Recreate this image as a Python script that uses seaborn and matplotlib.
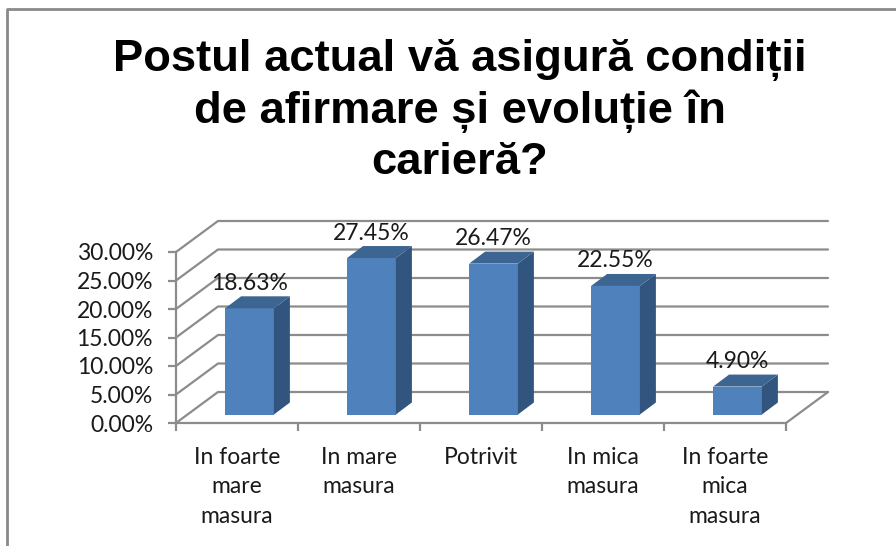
import matplotlib
matplotlib.use("Agg")
import matplotlib.pyplot as plt
import matplotlib.transforms as mtransforms
from matplotlib.lines import Line2D
from matplotlib.patches import Polygon
import pandas as pd
import seaborn as sns

categories = ["In foarte\nmare\nmasura", "In mare\nmasura", "Potrivit", "In mica\nmasura", "In foarte\nmica\nmasura"]
values = [18.63, 27.45, 26.47, 22.55, 4.90]
y_ticks = [0, 5, 10, 15, 20, 25, 30]
title = "Postul actual vă asigură condiții\nde afirmare și evoluție în\ncarieră?"

GRID = "#8c8c8c"
FRONT = "#4f81bd"
SIDE = "#32557f"
TOP = "#3c6592"
INK = "#1a1a1a"

sns.set_theme(style="white")
plt.rcParams["font.family"] = ["Lato", "DejaVu Sans"]

W, H = 896, 546
fig = plt.figure(figsize=(W / 100, H / 100), dpi=100)
# the axes is the front plane of the 3d box
ax = fig.add_axes([176 / W, 1 - 423 / H, 610 / W, 171 / H])
ax.patch.set_alpha(0)

data = pd.DataFrame({"cat": categories, "val": values})
sns.barplot(data=data, x="cat", y="val", color=FRONT, saturation=1, width=0.4, ax=ax, zorder=3,
            linewidth=0, edgecolor="none")
ax.set_xlim(-0.5, 4.5)
ax.set_ylim(0, 30)
ax.set_xlabel("")
ax.set_ylabel("")

# pixel sizes of the fake depth, turned into data units
px_x = 122.0
px_y = 171 / 30
back_x, back_y = 42 / px_x, 31 / px_y
bar_x, bar_y = 16 / px_x, 12 / px_y
shift = mtransforms.offset_copy(ax.transData, fig=fig, x=12.5, y=8.5, units="dots")

# walls and floor
for v in y_ticks:
    ax.plot([-0.5, -0.5 + back_x, 4.5 + back_x], [v, v + back_y, v + back_y],
            color=GRID, lw=1.6, clip_on=False, zorder=1)
ax.plot([4.5, 4.5 + back_x], [0, back_y], color=GRID, lw=1.6, clip_on=False, zorder=1)

# bars: move the front faces to mid depth, add top and side faces
for patch in ax.patches[:len(values)]:
    x0, w, h = patch.get_x(), patch.get_width(), patch.get_height()
    patch.set_transform(shift)
    x1 = x0 + w
    ax.add_patch(Polygon([(x1, 0), (x1 + bar_x, bar_y), (x1 + bar_x, h + bar_y), (x1, h)],
                         facecolor=SIDE, edgecolor="none", transform=shift, clip_on=False, zorder=3))
    ax.add_patch(Polygon([(x0, h), (x0 + bar_x, h + bar_y), (x1 + bar_x, h + bar_y), (x1, h)],
                         facecolor=TOP, edgecolor="none", transform=shift, clip_on=False, zorder=3))
    ax.annotate(f"{h:.2f}%", (x0 + w / 2, h), xycoords=shift, xytext=(0, 25), textcoords="offset pixels",
                ha="center", va="center", fontsize=16.5, color=INK, zorder=5, annotation_clip=False)

ax.set_yticks(y_ticks)
ax.set_yticklabels([f"{v:.2f}%" for v in y_ticks], fontsize=16.5, color=INK)
ax.set_xticks(range(len(categories)))
ax.set_xticklabels(categories, fontsize=16.5, color=INK, linespacing=1.52)
ax.set_xticks([i - 0.5 for i in range(len(categories) + 1)], minor=True)
ax.tick_params(axis="x", which="major", length=0, pad=17)
ax.tick_params(axis="x", which="minor", length=5.5, width=1.6, color=GRID, bottom=True)
ax.tick_params(axis="y", length=5.5, width=1.6, color=GRID, left=True, pad=11)
sns.despine(ax=ax)
for side in ["left", "bottom"]:
    ax.spines[side].set_color(GRID)
    ax.spines[side].set_linewidth(1.6)

fig.text(460 / W, 1 - 111 / H, title, ha="center", va="center", fontsize=32.7, fontweight="bold",
         family="Liberation Sans", color="black", linespacing=1.28)

# outer chart border
fig.add_artist(Line2D([7 / W, 7 / W, 1], [0, 1 - 9 / H, 1 - 9 / H], color="#8a8a8a", lw=2))

fig.savefig("out.png", dpi=100)
